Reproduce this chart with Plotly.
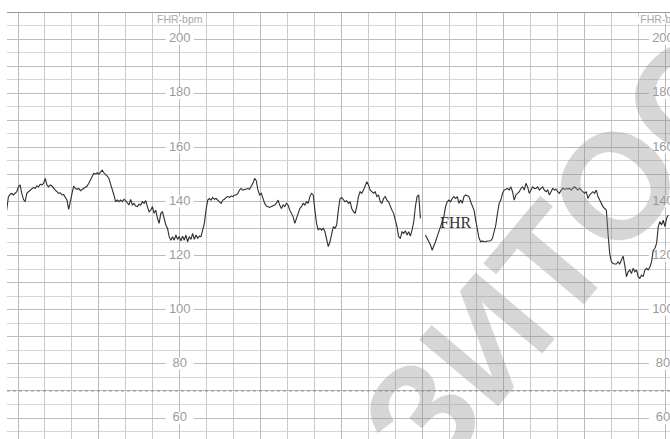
import numpy as np
import plotly.graph_objects as go

# ---- data read from the CTG strip ----
sample_interval_s = 1.2426      # seconds between samples
t_start_s = -13.35               # time of first sample (s)

fhr_bpm = [
    # segment 1
    None, None, None, None, 136.8, 141.7, 142.6, 143.0, 142.4, 143.2,
    143.6, 145.4, 146.1, 143.0, 140.8, 139.9, 143.0, 143.6, 144.2, 144.5,
    145.2, 144.8, 145.7, 145.4, 146.4, 146.1, 146.7, 148.5, 146.1, 145.4,
    146.1, 145.7, 144.8, 144.2, 143.6, 143.0, 143.2, 142.4, 142.6, 141.5,
    140.5, 137.1, 140.8, 143.0, 145.7, 144.8, 144.5, 144.8, 144.0, 144.5,
    144.8, 145.4, 145.7, 146.7, 147.9, 149.1, 150.4, 150.1, 150.6, 150.1,
    151.0, 151.6, 150.6, 150.1, 149.4, 148.5, 146.7, 144.5, 142.4, 139.9,
    140.5, 139.9, 140.5, 139.9, 140.8, 140.3, 139.3, 138.7, 140.8, 138.7,
    # segment 2
    139.3, 138.3, 138.1, 139.0, 138.7, 139.9, 139.3, 140.3, 138.1, 136.2,
    136.8, 138.1, 135.6, 136.8, 133.8, 131.9, 135.6, 136.2, 133.8, 131.3,
    130.1, 127.0, 125.7, 127.0, 125.7, 127.6, 126.0, 127.0, 125.5, 127.2,
    125.7, 127.6, 125.1, 127.0, 126.0, 128.2, 126.0, 127.6, 126.4, 127.2,
    127.0, 129.4, 131.9, 136.8, 140.5, 141.1, 140.5, 141.5, 140.8, 141.1,
    140.5, 139.9, 139.3, 140.5, 140.8, 141.5, 141.8, 141.5, 142.0, 141.8,
    142.4, 142.4, 143.0, 144.2, 144.8, 144.2, 144.5, 144.8, 144.8, 144.5,
    145.4, 146.7, 148.5, 147.7, 144.2, 142.4, 143.0, 141.1, 139.3, 138.3,
    # segment 3
    138.1, 137.8, 138.1, 138.3, 138.7, 139.3, 140.5, 138.7, 137.4, 138.7,
    138.1, 139.3, 138.7, 136.8, 135.6, 134.4, 131.9, 133.8, 135.6, 137.4,
    138.1, 139.3, 138.7, 139.9, 139.3, 141.8, 143.0, 142.4, 136.8, 131.9,
    129.4, 130.1, 129.4, 130.1, 128.8, 125.7, 123.3, 125.1, 127.6, 130.7,
    130.1, 131.3, 136.8, 141.1, 141.5, 140.5, 139.9, 140.3, 139.3, 139.9,
    137.4, 136.2, 135.6, 138.1, 141.8, 143.6, 143.0, 144.2, 146.1, 147.3,
    146.1, 144.2, 143.6, 143.0, 143.6, 141.8, 142.4, 139.9, 139.3, 141.1,
    141.8, 140.5, 139.9, 138.1, 136.8, 135.6, 133.1, 130.7, 127.0, 126.4,
    # segment 4
    128.8, 128.2, 129.2, 127.6, 128.8, 127.2, 129.4, 132.5, 138.1, 141.8,
    142.4, 133.8, None, None, 127.6, 126.4, 125.7, 123.9, 122.0, 123.3,
    125.1, 127.0, 128.8, 130.7, 132.5, 134.4, 138.1, 139.9, 140.5, 139.9,
    141.1, 141.8, 141.1, 141.8, 139.3, 140.5, 139.3, 141.8, 142.4, 142.0,
    141.8, 139.9, 138.1, 136.8, 133.1, 129.4, 126.4, 125.1, 125.4, 125.1,
    125.1, 125.4, 125.5, 125.5, 126.4, 128.8, 131.3, 135.6, 139.3, 140.5,
    143.0, 144.2, 144.5, 144.8, 144.2, 145.4, 143.6, 140.5, 142.4, 143.0,
    143.6, 144.8, 145.4, 144.2, 146.7, 145.4, 143.0, 144.2, 145.4, 144.8,
    # segment 5
    144.8, 145.4, 144.2, 144.8, 145.4, 144.2, 143.6, 144.2, 142.4, 143.6,
    144.8, 144.2, 144.5, 143.6, 143.0, 144.2, 144.8, 144.5, 144.5, 144.7,
    144.8, 144.2, 144.8, 145.4, 144.8, 144.2, 144.8, 144.0, 143.6, 143.0,
    143.6, 141.1, 142.4, 143.0, 143.6, 143.0, 144.2, 141.8, 140.5, 139.3,
    138.1, 137.4, 136.8, 128.2, 120.8, 117.7, 117.1, 116.9, 116.9, 117.7,
    116.9, 118.4, 119.8, 116.5, 112.2, 114.0, 114.7, 113.4, 115.3, 114.0,
    114.7, 112.2, 111.6, 112.8, 112.2, 114.7, 115.3, 114.7, 115.9, 117.7,
    122.0, 122.7, 124.5, 130.7, 132.5, 131.3, 133.1, 130.7, 133.8, 135.0,
]

scale_labels_bpm = [60, 80, 100, 120, 140, 160, 180, 200]
scale_label_cols_s = [120, 478.5]   # times of the two printed scale columns
scale_title = "FHR-bpm"
scale_title_bpm = 206.9
trace_label = "FHR"
trace_label_pos = (324.9, 132.4)
watermark_text = "ЗИТОС"

t_s = t_start_s + sample_interval_s * np.arange(len(fhr_bpm))

fig = go.Figure()

# printed scale numbers (drawn under the trace)
lab_x, lab_y, lab_t = [], [], []
for col in scale_label_cols_s:
    for v in scale_labels_bpm:
        lab_x.append(col); lab_y.append(v); lab_t.append(str(v))
fig.add_trace(go.Scatter(
    x=lab_x, y=lab_y, text=lab_t, mode="text", textposition="middle center",
    textfont=dict(family="Liberation Sans, Arial", size=13, color="#9c9c9c"),
    hoverinfo="skip", showlegend=False,
))
fig.add_trace(go.Scatter(
    x=scale_label_cols_s, y=[scale_title_bpm] * len(scale_label_cols_s),
    text=[scale_title] * len(scale_label_cols_s), mode="text",
    textposition="middle center",
    textfont=dict(family="Liberation Sans, Arial", size=10.5, color="#a8a8a8"),
    hoverinfo="skip", showlegend=False,
))

fig.add_trace(go.Scatter(
    x=t_s, y=fhr_bpm, mode="lines", connectgaps=False,
    line=dict(color="#2e2e2e", width=1.1), hoverinfo="skip", showlegend=False,
))

shapes = []
# white boxes behind the printed numbers (between grid and traces)
for col in scale_label_cols_s:
    for v in scale_labels_bpm:
        shapes.append(dict(type="rect", xref="x", yref="y", layer="between",
                           x0=col - 10.5, x1=col + 10.5, y0=v - 2.2, y1=v + 2.2,
                           fillcolor="white", line=dict(width=0)))
    shapes.append(dict(type="rect", xref="x", yref="y", layer="between",
                       x0=col - 19.5, x1=col + 19.5,
                       y0=scale_title_bpm - 1.3, y1=scale_title_bpm + 1.3,
                       fillcolor="white", line=dict(width=0)))
shapes += [
    dict(type="line", xref="paper", x0=0, x1=1, yref="y", y0=210, y1=210,
         line=dict(color="#9a9a9a", width=2)),
    dict(type="line", xref="paper", x0=0, x1=1, yref="y", y0=70, y1=70,
         line=dict(color="#8c8c8c", width=1, dash="dot")),
]

annotations = [
    dict(x=trace_label_pos[0], y=trace_label_pos[1], xref="x", yref="y",
         text=trace_label, showarrow=False,
         font=dict(family="Liberation Serif, Times New Roman", size=16, color="#333333")),
    dict(x=0.83, y=0.43, xref="paper", yref="paper", text=watermark_text,
         showarrow=False, textangle=-50, xanchor="center", yanchor="middle",
         font=dict(family="Liberation Sans, Arial", size=150, color="rgba(140,140,140,0.36)",
                   weight="bold")),
]

fig.update_layout(
    width=670, height=439,
    margin=dict(l=7, r=0, t=12, b=0),
    paper_bgcolor="white", plot_bgcolor="white",
    annotations=annotations, shapes=shapes,
    xaxis=dict(
        range=[-8.16, 483.7], tick0=0, dtick=60,
        showgrid=True, gridcolor="#b9b9b9", gridwidth=1.3,
        minor=dict(tick0=0, dtick=20, showgrid=True, gridcolor="#cbcbcb", gridwidth=1),
        showticklabels=False, ticks="", zeroline=False, showline=False,
    ),
    yaxis=dict(
        range=[52.24, 210], tick0=0, dtick=10,
        showgrid=True, gridcolor="#bcbcbc", gridwidth=1.3,
        minor=dict(tick0=0, dtick=5, showgrid=True, gridcolor="#d6d6d6", gridwidth=1),
        showticklabels=False, ticks="", zeroline=False, showline=False,
    ),
)

fig.write_html("out.html")
